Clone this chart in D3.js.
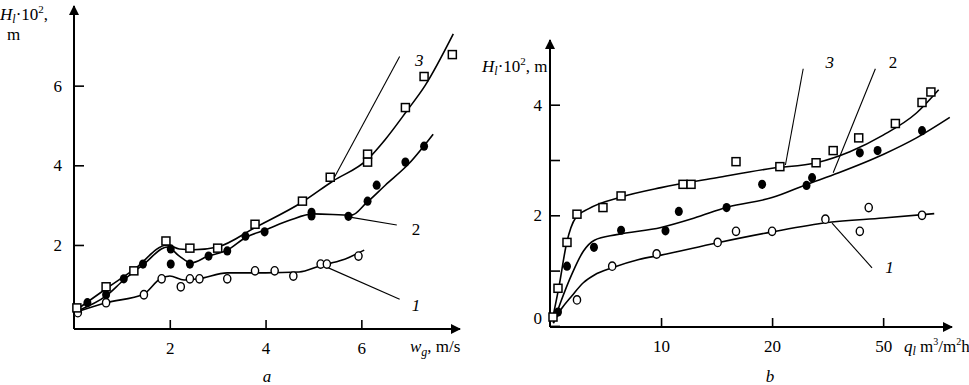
<!doctype html>
<html>
<head>
<meta charset="utf-8">
<style>
  body { margin: 0; background: #fff; }
  svg { display: block; background: #fff; }
  .it { font-style: italic; }
  .curve { fill: none; stroke: #000; stroke-width: 1.6; }
  .leader { fill: none; stroke: #000; stroke-width: 1.1; }
  .tick line { stroke: #000; stroke-width: 1.6; }
  .axisline { stroke: #000; stroke-width: 2; }
</style>
<title>H_l vs w_g and q_l</title>
</head>
<body>
<svg id="chart" width="969" height="385" font-family="Liberation Serif" font-size="17"></svg>

<script src="https://cdnjs.cloudflare.com/ajax/libs/d3/7.8.5/d3.min.js"></script>
<script>

// ---- panel a : H_l vs w_g ----
var aTicksX = [2, 4, 6];
var aTicksY = [2, 4, 6];

var aPts1 = [[0.08,0.3],[0.67,0.55],[1.46,0.75],[1.83,1.15],[2.23,0.95],[2.42,1.15],[2.62,1.15],
             [3.2,1.15],[3.78,1.35],[4.19,1.35],[4.58,1.22],[5.15,1.52],[5.28,1.52],[5.94,1.72]];
var aPts2 = [[0.28,0.55],[0.67,0.75],[1.04,1.15],[1.44,1.52],[2.02,1.52],[2.02,1.9],[2.42,1.52],
             [2.81,1.72],[3.2,1.85],[3.58,2.22],[3.98,2.33],[4.96,2.73],[4.96,2.82],[5.73,2.72],
             [6.13,3.1],[6.32,3.5],[6.92,4.08],[7.31,4.48]];
var aPts3 = [[0.06,0.42],[0.67,0.95],[1.25,1.35],[1.92,2.1],[2.42,1.92],[3.0,1.92],[3.78,2.52],
             [4.77,3.1],[5.35,3.7],[6.13,4.28],[6.13,4.08],[6.92,5.45],[7.31,6.23],[7.9,6.78]];

var aCurve1 = [[0.08,0.33],[0.67,0.55],[1.46,0.77],[1.8,1.15],[2.0,1.22],[2.3,1.12],[2.6,1.15],
               [3.2,1.3],[4.0,1.3],[4.7,1.32],[5.15,1.48],[5.6,1.62],[6.06,1.87]];
var aCurve2 = [[0.08,0.35],[0.67,0.72],[1.04,1.12],[1.44,1.5],[1.95,1.95],[2.2,1.72],[2.45,1.55],
               [2.8,1.72],[3.2,1.87],[3.6,2.2],[4.0,2.38],[4.5,2.62],[5.0,2.78],[5.8,2.75],
               [6.1,3.05],[6.5,3.5],[7.0,4.05],[7.5,4.78]];
var aCurve3 = [[0.06,0.38],[0.67,0.9],[1.25,1.38],[1.95,2.0],[2.2,1.9],[2.5,1.88],[3.0,1.95],
               [3.8,2.45],[4.77,3.08],[5.4,3.6],[6.13,4.15],[6.5,4.65],[6.94,5.35],[7.33,6.0],[7.92,7.3]];

// leader lines: [from, to, label position, label, italic]
var aLeaders = [
  [[5.17,1.5],[6.8,0.64],[7.05,0.5],"1",true],
  [[5.76,2.7],[6.74,2.5],[7.05,2.4],"2",false],
  [[5.41,3.64],[6.8,6.73],[7.12,6.65],"3",true]
];

// ---- panel b : H_l vs q_l ----
var bTicksX = [10, 20, 30];
var bTickLabelsX = ["10", "20", "50"];
var bTicksY = [0, 1, 2, 3, 4];
var bTickLabelsY = ["0", "", "2", "", "4"];

var bPts1 = [[2.43,0.47],[5.6,1.08],[9.6,1.3],[15.1,1.51],[16.75,1.71],[20.0,1.71],[24.8,1.93],
             [27.9,1.71],[28.7,2.14],[33.5,2.0]];
var bPts2 = [[0.72,0.25],[1.53,1.08],[3.96,1.42],[6.4,1.73],[10.4,1.72],[11.6,2.07],[15.9,2.14],
             [19.1,2.56],[23.1,2.54],[23.6,2.68],[27.9,3.13],[29.5,3.17],[33.5,3.53]];
var bPts3 = [[0.27,0.16],[0.72,0.68],[1.53,1.51],[2.43,2.02],[4.77,2.14],[6.4,2.35],[11.98,2.56],
             [12.7,2.56],[16.75,2.97],[20.7,2.88],[23.96,2.95],[25.5,3.17],[27.8,3.4],[31.1,3.66],
             [33.5,4.04],[34.3,4.23]];

var bCurve1 = [[0.3,0.05],[1,0.3],[2,0.55],[3,0.78],[4,0.92],[5.6,1.05],[8,1.2],[10,1.28],
               [15,1.5],[20,1.7],[25,1.87],[30,1.95],[34.6,2.03]];
var bCurve2 = [[0.3,0.05],[1,0.45],[2,0.95],[3,1.35],[4,1.55],[6,1.65],[10,1.78],[13,1.95],
               [16,2.15],[20,2.32],[23,2.55],[26,2.77],[30,3.1],[33,3.4],[36,3.77]];
var bCurve3 = [[0.2,0.1],[0.8,0.7],[1.5,1.5],[2.3,1.95],[3.5,2.12],[6.4,2.33],[10,2.5],[15,2.68],
               [20,2.85],[24,2.95],[27,3.15],[30,3.45],[33,3.85],[35,4.27]];

var bLeaders = [
  [[25.4,1.86],[29.0,1.05],[30.2,1.07],"1",true],
  [[25.5,2.77],[29.3,4.65],[30.5,4.78],"2",false],
  [[21.2,2.91],[22.8,4.65],[24.8,4.78],"3",true]
];

var svg = d3.select("#chart");

svg.append("defs").append("marker")
  .attr("id", "arrow")
  .attr("viewBox", "0 0 10 10")
  .attr("refX", 9).attr("refY", 5)
  .attr("markerWidth", 7).attr("markerHeight", 5)
  .attr("markerUnits", "strokeWidth")
  .attr("orient", "auto")
  .append("path").attr("d", "M0,0 L10,5 L0,10 Z").attr("fill", "#000");

function drawPanel(p) {
  var x = d3.scaleLinear().domain(p.xDomain).range(p.xRange);
  var y = d3.scaleLinear().domain(p.yDomain).range(p.yRange);
  var g = svg.append("g");

  // axes with arrows
  g.append("line").attr("class", "axisline")
    .attr("x1", p.xRange[0]).attr("x2", p.xRange[0])
    .attr("y1", p.yRange[0]).attr("y2", p.yRange[1])
    .attr("marker-end", "url(#arrow)");
  g.append("line").attr("class", "axisline")
    .attr("x1", p.xRange[0]).attr("x2", p.xRange[1])
    .attr("y1", p.yRange[0]).attr("y2", p.yRange[0])
    .attr("marker-end", "url(#arrow)");

  var ax = g.append("g")
    .attr("transform", "translate(0," + p.yRange[0] + ")")
    .call(d3.axisBottom(x).tickValues(p.ticksX).tickSize(-9).tickPadding(10)
      .tickFormat(function(d, i) { return p.tickLabelsX[i]; }));
  ax.attr("font-family", null).attr("font-size", null);
  ax.select(".domain").remove();
  ax.selectAll("text").attr("dy", "0.9em");

  var ay = g.append("g")
    .attr("transform", "translate(" + p.xRange[0] + ",0)")
    .call(d3.axisLeft(y).tickValues(p.ticksY).tickSize(-10).tickPadding(p.yPad)
      .tickFormat(function(d, i) { return p.tickLabelsY[i]; }));
  ay.attr("font-family", null).attr("font-size", null);
  ay.select(".domain").remove();
  ay.selectAll("text")
    .attr("dy", function(d) { return d === 0 ? "-0.15em" : "0.32em"; });

  var line = d3.line()
    .x(function(d) { return x(d[0]); })
    .y(function(d) { return y(d[1]); })
    .curve(d3.curveMonotoneX);

  p.curves.forEach(function(c) {
    g.append("path").attr("class", "curve").attr("d", line(c));
  });

  p.leaders.forEach(function(l) {
    g.append("line").attr("class", "leader")
      .attr("x1", x(l[0][0])).attr("y1", y(l[0][1]))
      .attr("x2", x(l[1][0])).attr("y2", y(l[1][1]));
    g.append("text")
      .attr("class", l[4] ? "it" : null)
      .attr("x", x(l[2][0])).attr("y", y(l[2][1]))
      .attr("dy", "0.35em")
      .text(l[3]);
  });

  // open circles
  g.selectAll(".o").data(p.pts1).join("ellipse")
    .attr("cx", function(d) { return x(d[0]); })
    .attr("cy", function(d) { return y(d[1]); })
    .attr("rx", 3.6).attr("ry", 4.2)
    .attr("fill", "#fff").attr("stroke", "#000").attr("stroke-width", 1.4);
  // filled circles
  g.selectAll(".f").data(p.pts2).join("ellipse")
    .attr("cx", function(d) { return x(d[0]); })
    .attr("cy", function(d) { return y(d[1]); })
    .attr("rx", 4).attr("ry", 4.6)
    .attr("fill", "#000");
  // squares
  g.selectAll(".s").data(p.pts3).join("rect")
    .attr("x", function(d) { return x(d[0]) - 4; })
    .attr("y", function(d) { return y(d[1]) - 4; })
    .attr("width", 8).attr("height", 8)
    .attr("fill", "#fff").attr("stroke", "#000").attr("stroke-width", 1.5);

  return g;
}

drawPanel({
  xDomain: [0, 8.06], xRange: [74, 460],
  yDomain: [-0.11, 8.0], yRange: [329, 6],
  ticksX: aTicksX, tickLabelsX: aTicksX.map(String),
  ticksY: aTicksY, tickLabelsY: aTicksY.map(String), yPad: 12,
  pts1: aPts1, pts2: aPts2, pts3: aPts3,
  curves: [aCurve1, aCurve2, aCurve3],
  leaders: aLeaders
});

drawPanel({
  xDomain: [0, 36.2], xRange: [550, 952],
  yDomain: [-0.02, 5.17], yRange: [327, 40],
  ticksX: bTicksX, tickLabelsX: bTickLabelsX,
  ticksY: bTicksY, tickLabelsY: bTickLabelsY, yPad: 8,
  pts1: bPts1, pts2: bPts2, pts3: bPts3,
  curves: [bCurve1, bCurve2, bCurve3],
  leaders: bLeaders
});

// axis titles
var t1 = svg.append("text").attr("x", 0).attr("y", 20);
t1.append("tspan").attr("class", "it").text("H");
t1.append("tspan").attr("class", "it").attr("font-size", 12).attr("dy", 3).text("l");
t1.append("tspan").attr("dy", -3).text("·10");
t1.append("tspan").attr("font-size", 11).attr("dy", -7).text("2");
t1.append("tspan").attr("dy", 7).text(",");
svg.append("text").attr("x", 7).attr("y", 40).text("m");

var t2 = svg.append("text").attr("x", 482).attr("y", 72);
t2.append("tspan").attr("class", "it").text("H");
t2.append("tspan").attr("class", "it").attr("font-size", 12).attr("dy", 3).text("l");
t2.append("tspan").attr("dy", -3).text("·10");
t2.append("tspan").attr("font-size", 11).attr("dy", -7).text("2");
t2.append("tspan").attr("dy", 7).text(", m");

var t3 = svg.append("text").attr("x", 410).attr("y", 352);
t3.append("tspan").attr("class", "it").text("w");
t3.append("tspan").attr("class", "it").attr("font-size", 12).attr("dy", 4).text("g");
t3.append("tspan").attr("dy", -4).text(", m/s");

var t4 = svg.append("text").attr("x", 904).attr("y", 352);
t4.append("tspan").attr("class", "it").text("q");
t4.append("tspan").attr("class", "it").attr("font-size", 12).attr("dy", 3).text("l");
t4.append("tspan").attr("dy", -3).text(" m");
t4.append("tspan").attr("font-size", 10).attr("dy", -7).text("3");
t4.append("tspan").attr("dy", 7).text("/m");
t4.append("tspan").attr("font-size", 10).attr("dy", -7).text("2");
t4.append("tspan").attr("dy", 7).text("h");

svg.append("text").attr("class", "it").attr("x", 267).attr("y", 382)
  .attr("text-anchor", "middle").text("a");
svg.append("text").attr("class", "it").attr("x", 770).attr("y", 382)
  .attr("text-anchor", "middle").text("b");

</script>
</body>
</html>
